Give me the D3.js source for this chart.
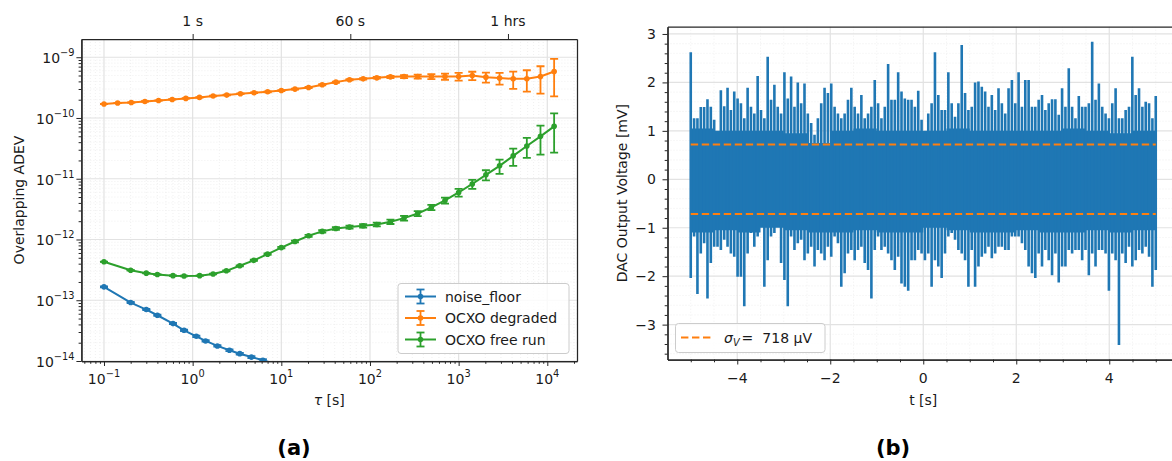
<!DOCTYPE html>
<html>
<head>
<meta charset="utf-8">
<script src="https://cdn.jsdelivr.net/npm/d3@7"></script>
<style>
  body { margin: 0; background: #fff; }
  text { font-family: "DejaVu Sans", sans-serif; }
</style>
</head>
<body>
<svg id="fig" width="1172" height="461"></svg>
<script>
// ---------- (a) overlapping Allan deviation ----------
const tauNoise = [0.1, 0.2, 0.3, 0.4, 0.6, 0.8, 1.1, 1.4, 1.9, 2.6, 3.4, 4.6, 6.2, 8.4, 11.3];
const adevNoise = [1.66e-13, 9.16e-14, 7.03e-14, 5.66e-14, 4.13e-14, 3.2e-14, 2.55e-14, 2.14e-14,
  1.77e-14, 1.50e-14, 1.32e-14, 1.16e-14, 1.03e-14, 9.0e-15, 7.9e-15];
const errNoise = [3e-15, 2e-15, 1.5e-15, 1.2e-15, 1e-15, 8e-16, 7e-16, 6e-16, 5e-16, 5e-16, 4e-16,
  4e-16, 4e-16, 4e-16, 4e-16];

const tauDegraded = [0.1, 0.1425, 0.2031, 0.2894, 0.4125, 0.5878, 0.8377, 1.194, 1.701, 2.424, 3.455,
  4.924, 7.017, 10, 14.25, 20.31, 28.94, 41.25, 58.78, 83.77, 119.4, 170.1, 242.4, 345.5, 492.4,
  701.7, 1000, 1425, 2031, 2894, 4125, 5878, 8377, 11940];
const adevDegraded = [1.70e-10, 1.76e-10, 1.80e-10, 1.87e-10, 1.94e-10, 2.02e-10, 2.10e-10, 2.18e-10,
  2.30e-10, 2.38e-10, 2.50e-10, 2.60e-10, 2.70e-10, 2.83e-10, 2.99e-10, 3.18e-10, 3.52e-10, 3.89e-10,
  4.25e-10, 4.41e-10, 4.58e-10, 4.75e-10, 4.81e-10, 4.81e-10, 4.81e-10, 4.81e-10, 4.81e-10, 4.99e-10,
  4.70e-10, 4.53e-10, 4.41e-10, 4.41e-10, 4.81e-10, 5.81e-10];
const errDegraded = [1e-12, 1e-12, 1.2e-12, 1.4e-12, 1.6e-12, 1.8e-12, 2e-12, 2.3e-12, 2.6e-12, 3e-12,
  3.5e-12, 4e-12, 4.6e-12, 5.3e-12, 6e-12, 7e-12, 8e-12, 9e-12, 1.0e-11, 1.2e-11, 1.5e-11, 2.0e-11,
  2.8e-11, 3.6e-11, 4.5e-11, 5.5e-11, 7.0e-11, 7.8e-11, 8.8e-11, 1.0e-10, 1.4e-10, 1.7e-10, 2.3e-10,
  3.55e-10];

const tauFree = [0.1, 0.2, 0.3, 0.4, 0.6, 0.8, 1.2, 1.7, 2.4, 3.4, 4.9, 7.0, 10, 14.25, 20.31, 28.94,
  41.25, 58.78, 83.77, 119.4, 170.1, 242.4, 345.5, 492.4, 701.7, 1000, 1425, 2031, 2894, 4125, 5878,
  8377, 11940];
const adevFree = [4.30e-13, 3.11e-13, 2.79e-13, 2.65e-13, 2.54e-13, 2.50e-13, 2.54e-13, 2.70e-13,
  3.05e-13, 3.69e-13, 4.54e-13, 5.74e-13, 7.35e-13, 9.27e-13, 1.15e-12, 1.36e-12, 1.52e-12, 1.60e-12,
  1.68e-12, 1.77e-12, 1.96e-12, 2.25e-12, 2.68e-12, 3.37e-12, 4.39e-12, 5.94e-12, 8.2e-12, 1.16e-11,
  1.63e-11, 2.38e-11, 3.45e-11, 4.99e-11, 7.28e-11];
const errFree = [2e-15, 2e-15, 2e-15, 2e-15, 2e-15, 3e-15, 3e-15, 4e-15, 5e-15, 7e-15, 1e-14, 1.5e-14,
  2.2e-14, 3.2e-14, 4.5e-14, 6e-14, 7.5e-14, 9e-14, 1.1e-13, 1.3e-13, 1.6e-13, 2.0e-13, 2.6e-13,
  3.3e-13, 5.0e-13, 8.6e-13, 1.4e-12, 2.2e-12, 4.3e-12, 7.5e-12, 1.25e-11, 2.5e-11, 4.6e-11];

const decadeTicksX = [-1, 0, 1, 2, 3, 4];
const decadeTicksY = [-14, -13, -12, -11, -10, -9];
const topTickValues = [1, 60, 3600];
const topTickLabels = ["1 s", "60 s", "1 hrs"];

// ---------- (b) DAC output voltage [mV] ----------
// extremes reached inside each of 140 equal time intervals
const voltMax = [2.62, 1.26, 1.26, 1.49, 1.49, 1.65, 1.50, 1.23, 0.95, 1.84, 1.51, 1.89, 1.43, 1.81,
  1.67, 1.57, 1.26, 1.89, 1.50, 1.36, 2.13, 1.43, 1.26, 2.53, 1.64, 1.95, 1.50, 1.36, 2.21, 1.67, 2.12,
  1.50, 2.00, 1.57, 1.98, 1.36, 1.16, 0.92, 1.26, 1.57, 1.89, 1.78, 1.98, 1.50, 1.36, 1.26, 1.36, 1.64,
  1.89, 1.50, 1.36, 1.74, 1.26, 1.36, 1.50, 2.05, 1.57, 1.26, 1.50, 2.38, 1.64, 1.64, 2.21, 1.81, 1.67,
  1.64, 1.64, 1.50, 1.83, 1.23, 0.95, 1.36, 1.57, 2.62, 1.74, 1.43, 1.43, 2.21, 1.57, 1.29, 1.57, 2.77,
  1.78, 1.43, 1.50, 2.00, 2.02, 1.91, 1.81, 1.50, 1.74, 1.43, 1.88, 1.57, 1.36, 1.88, 2.05, 1.57, 2.21,
  1.50, 2.05, 2.05, 1.50, 1.50, 1.64, 1.74, 1.43, 1.57, 1.65, 1.65, 1.33, 1.88, 1.50, 2.29, 1.50, 1.26,
  1.72, 1.50, 1.50, 1.57, 2.84, 1.64, 1.98, 1.50, 1.36, 1.26, 1.57, 1.88, 1.26, 1.26, 1.43, 1.50, 2.53,
  1.74, 1.88, 1.50, 1.60, 1.57, 1.26, 1.72];
const voltMin = [-2.04, -1.18, -2.37, -1.53, -1.32, -2.46, -1.73, -1.39, -1.39, -1.46, -1.25, -1.39,
  -1.53, -1.60, -2.01, -2.01, -2.62, -1.53, -1.11, -1.39, -1.18, -0.98, -2.22, -1.67, -1.18, -1.11,
  -0.98, -1.73, -2.08, -2.62, -1.18, -1.46, -1.32, -1.25, -1.67, -1.53, -1.39, -1.80, -1.46, -1.53,
  -1.67, -1.39, -1.60, -1.18, -1.32, -2.22, -1.94, -1.53, -1.46, -1.67, -1.46, -1.39, -1.73, -1.87,
  -2.46, -1.46, -1.18, -1.46, -1.39, -1.53, -1.67, -1.87, -1.60, -2.15, -2.22, -2.30, -1.67, -1.67,
  -1.46, -1.53, -1.67, -1.53, -2.22, -1.67, -1.80, -2.04, -1.53, -1.18, -1.11, -1.25, -1.46, -1.53,
  -1.67, -2.22, -1.46, -2.22, -1.80, -1.60, -1.53, -1.39, -1.63, -1.53, -1.39, -1.39, -1.46, -1.46,
  -1.18, -1.18, -1.18, -1.32, -1.46, -1.80, -1.94, -2.04, -1.53, -1.80, -1.46, -1.67, -1.98, -1.53,
  -2.13, -1.80, -1.80, -1.46, -1.53, -1.46, -1.46, -1.67, -1.46, -1.98, -1.53, -1.80, -1.46, -1.46,
  -1.53, -2.30, -1.53, -1.67, -3.42, -1.53, -1.73, -1.39, -1.80, -1.67, -1.46, -1.53, -1.39, -1.60,
  -2.22, -1.87];
// range densely covered by the trace in each 0.5 s window
const denseHi = [1.05, 1.0, 1.0, 1.0, 0.95, 0.75, 1.0, 1.05, 1.0, 1.0, 1.0, 1.05, 1.0, 1.0, 1.0, 1.0,
  1.05, 1.0, 0.95, 1.0];
const denseLo = [-1.1, -1.05, -1.1, -1.0, -1.05, -1.1, -1.1, -1.05, -1.1, -1.1, -1.0, -1.05, -1.1,
  -1.1, -1.05, -1.1, -1.1, -1.05, -1.1, -1.05];
const tStart = -5, tEnd = 5;
const sigmaV = 0.718;   // mV
const voltTicksX = [-4, -2, 0, 2, 4];
const voltTicksY = [-3, -2, -1, 0, 1, 2, 3];

// ---------- shared style ----------
const C = { blue: "#1f77b4", orange: "#ff7f0e", green: "#2ca02c" };
const INK = "#1a1a1a", SPINE = "#262626";
const GRID_MAJOR = "#e2e2e2", GRID_MINOR = "#ececec";
const FS = 14;
const svg = d3.select("#fig");
const minus = n => (n < 0 ? "\u2212" + (-n) : String(n));

// ================= panel (a) =================
const A = { x0: 81.4, x1: 577, y0: 39, y1: 361 };
const xA = d3.scaleLog().domain([Math.pow(10, -1.2548), Math.pow(10, 4.335)]).range([A.x0, A.x1]);
const yA = d3.scaleLog().domain([1e-14, Math.pow(10, -8.70)]).range([A.y1, A.y0]);

const inDom = (s, v) => { const d = s.domain(); return v >= d[0] && v <= d[1]; };
const minorLog = (s, d0, d1) => {
  const out = [];
  for (let d = d0; d <= d1; d++) for (let m = 2; m <= 9; m++) {
    const v = m * Math.pow(10, d); if (inDom(s, v)) out.push(v);
  }
  return out;
};
const xAMajor = decadeTicksX.map(d => Math.pow(10, d));
const yAMajor = decadeTicksY.map(d => Math.pow(10, d));
const xAMinor = minorLog(xA, -2, 4);
const yAMinor = minorLog(yA, -15, -9);

const gA = svg.append("g");
const gridA = gA.append("g");
gridA.selectAll(".vmin").data(xAMinor).enter().append("line")
  .attr("x1", d => xA(d)).attr("x2", d => xA(d)).attr("y1", A.y0).attr("y2", A.y1)
  .attr("stroke", GRID_MINOR).attr("stroke-width", 0.8).attr("stroke-dasharray", "1,2");
gridA.selectAll(".hmin").data(yAMinor).enter().append("line")
  .attr("y1", d => yA(d)).attr("y2", d => yA(d)).attr("x1", A.x0).attr("x2", A.x1)
  .attr("stroke", GRID_MINOR).attr("stroke-width", 0.8).attr("stroke-dasharray", "1,2");
gridA.selectAll(".vmaj").data(xAMajor).enter().append("line")
  .attr("x1", d => xA(d)).attr("x2", d => xA(d)).attr("y1", A.y0).attr("y2", A.y1)
  .attr("stroke", GRID_MAJOR).attr("stroke-width", 1.2);
gridA.selectAll(".hmaj").data(yAMajor).enter().append("line")
  .attr("y1", d => yA(d)).attr("y2", d => yA(d)).attr("x1", A.x0).attr("x2", A.x1)
  .attr("stroke", GRID_MAJOR).attr("stroke-width", 1.2);

const defs = svg.append("defs");
defs.append("clipPath").attr("id", "clipA")
  .append("rect").attr("x", A.x0).attr("y", A.y0).attr("width", A.x1 - A.x0).attr("height", A.y1 - A.y0);
defs.append("clipPath").attr("id", "clipB")
  .append("rect").attr("x", 667.5).attr("y", 26.7).attr("width", 520).attr("height", 359.5 - 26.7);

const dataA = gA.append("g").attr("clip-path", "url(#clipA)");
function errSeries(taus, vals, errs, color) {
  const pts = taus.map((t, i) => ({ t, v: vals[i], e: errs[i] }));
  const g = dataA.append("g");
  g.append("path").datum(pts)
    .attr("d", d3.line().x(d => xA(d.t)).y(d => yA(d.v)))
    .attr("fill", "none").attr("stroke", color).attr("stroke-width", 2).attr("stroke-linejoin", "round");
  const lo = d => yA(Math.max(d.v - d.e, 1e-20)), hi = d => yA(d.v + d.e);
  const eb = g.selectAll(".eb").data(pts).enter().append("g");
  eb.append("line").attr("x1", d => xA(d.t)).attr("x2", d => xA(d.t)).attr("y1", lo).attr("y2", hi)
    .attr("stroke", color).attr("stroke-width", 1.8);
  [lo, hi].forEach(f => {
    eb.append("line").attr("x1", d => xA(d.t) - 4).attr("x2", d => xA(d.t) + 4).attr("y1", f).attr("y2", f)
      .attr("stroke", color).attr("stroke-width", 1.8);
  });
  eb.append("circle").attr("cx", d => xA(d.t)).attr("cy", d => yA(d.v)).attr("r", 2.8).attr("fill", color);
}
errSeries(tauNoise, adevNoise, errNoise, C.blue);
errSeries(tauDegraded, adevDegraded, errDegraded, C.orange);
errSeries(tauFree, adevFree, errFree, C.green);

function styleAxis(g) {
  g.selectAll("path.domain").attr("stroke", SPINE).attr("stroke-width", 1.25);
  g.selectAll(".tick line").attr("stroke", SPINE).attr("stroke-width", 1);
  g.selectAll(".tick text").remove();
}
gA.append("g").attr("transform", `translate(0,${A.y1})`)
  .call(d3.axisBottom(xA).tickValues(xAMinor).tickSize(2.8).tickSizeOuter(0).tickFormat("")).call(styleAxis);
gA.append("g").attr("transform", `translate(0,${A.y1})`)
  .call(d3.axisBottom(xA).tickValues(xAMajor).tickSize(5).tickSizeOuter(0).tickFormat("")).call(styleAxis);
gA.append("g").attr("transform", `translate(${A.x0},0)`)
  .call(d3.axisLeft(yA).tickValues(yAMinor).tickSize(2.8).tickSizeOuter(0).tickFormat("")).call(styleAxis);
gA.append("g").attr("transform", `translate(${A.x0},0)`)
  .call(d3.axisLeft(yA).tickValues(yAMajor).tickSize(5).tickSizeOuter(0).tickFormat("")).call(styleAxis);
gA.append("g").attr("transform", `translate(0,${A.y0})`)
  .call(d3.axisTop(xA).tickValues(topTickValues).tickSize(5).tickSizeOuter(0).tickFormat("")).call(styleAxis);
gA.append("g").attr("transform", `translate(${A.x1},0)`)
  .call(d3.axisRight(yA).tickValues([]).tickSizeOuter(0)).call(styleAxis);

function powLabel(g, x, y, anchor, exp) {
  const t = g.append("text").attr("x", x).attr("y", y).attr("text-anchor", anchor)
    .attr("font-size", FS).attr("fill", INK);
  t.append("tspan").text("10");
  t.append("tspan").attr("dy", -7).attr("font-size", 9.8).text(minus(exp));
}
decadeTicksX.forEach(d => powLabel(gA, xA(Math.pow(10, d)), 383.5, "middle", d));
decadeTicksY.forEach(d => powLabel(gA, 74.5, yA(Math.pow(10, d)) + 6, "end", d));
topTickValues.forEach((v, i) => {
  gA.append("text").attr("x", xA(v)).attr("y", 25.5).attr("text-anchor", "middle")
    .attr("font-size", FS).attr("fill", INK).text(topTickLabels[i]);
});

const tauLabel = gA.append("text").attr("x", (A.x0 + A.x1) / 2).attr("y", 405)
  .attr("text-anchor", "middle").attr("font-size", FS).attr("fill", INK);
tauLabel.append("tspan").attr("font-style", "italic").text("\u03c4");
tauLabel.append("tspan").text(" [s]");
gA.append("text").attr("transform", `translate(24,${(A.y0 + A.y1) / 2}) rotate(-90)`)
  .attr("text-anchor", "middle").attr("font-size", FS).attr("fill", INK).text("Overlapping ADEV");

const legA = gA.append("g");
legA.append("rect").attr("x", 398).attr("y", 283.5).attr("width", 171).attr("height", 70).attr("rx", 3)
  .attr("fill", "#fff").attr("fill-opacity", 0.8).attr("stroke", "#cccccc").attr("stroke-width", 1);
[["noise_floor", C.blue], ["OCXO degraded", C.orange], ["OCXO free run", C.green]].forEach(([name, col], i) => {
  const cy = 296.5 + i * 21.5, hx = 420.5;
  const g = legA.append("g");
  g.append("line").attr("x1", 405).attr("x2", 436).attr("y1", cy).attr("y2", cy)
    .attr("stroke", col).attr("stroke-width", 2);
  g.append("line").attr("x1", hx).attr("x2", hx).attr("y1", cy - 7).attr("y2", cy + 7)
    .attr("stroke", col).attr("stroke-width", 1.8);
  [cy - 7, cy + 7].forEach(yy => g.append("line").attr("x1", hx - 4).attr("x2", hx + 4)
    .attr("y1", yy).attr("y2", yy).attr("stroke", col).attr("stroke-width", 1.8));
  g.append("circle").attr("cx", hx).attr("cy", cy).attr("r", 2.8).attr("fill", col);
  g.append("text").attr("x", 445).attr("y", cy + 5).attr("font-size", FS).attr("fill", INK).text(name);
});

// ================= panel (b) =================
const B = { x0: 667.5, x1: 1179, y0: 26.7, y1: 359.5 };
const xB = d3.scaleLinear().domain([-5.5, 5.5]).range([B.x0, B.x1]);
const yB = d3.scaleLinear().domain([-3.72, 3.15]).range([B.y1, B.y0]);
const xBMinor = d3.range(-10, 11).map(k => k * 0.5).filter(v => !voltTicksX.includes(v));
const yBMinor = d3.range(-18, 16).map(k => +(k * 0.2).toFixed(1)).filter(v => !voltTicksY.includes(v));

const gB = svg.append("g");
const gridB = gB.append("g");
gridB.selectAll(".vmin").data(xBMinor).enter().append("line")
  .attr("x1", d => xB(d)).attr("x2", d => xB(d)).attr("y1", B.y0).attr("y2", B.y1)
  .attr("stroke", GRID_MINOR).attr("stroke-width", 0.8).attr("stroke-dasharray", "1,2");
gridB.selectAll(".hmin").data(yBMinor).enter().append("line")
  .attr("y1", d => yB(d)).attr("y2", d => yB(d)).attr("x1", B.x0).attr("x2", B.x1)
  .attr("stroke", GRID_MINOR).attr("stroke-width", 0.8).attr("stroke-dasharray", "1,2");
gridB.selectAll(".vmaj").data(voltTicksX).enter().append("line")
  .attr("x1", d => xB(d)).attr("x2", d => xB(d)).attr("y1", B.y0).attr("y2", B.y1)
  .attr("stroke", GRID_MAJOR).attr("stroke-width", 1.2);
gridB.selectAll(".hmaj").data(voltTicksY).enter().append("line")
  .attr("y1", d => yB(d)).attr("y2", d => yB(d)).attr("x1", B.x0).attr("x2", B.x1)
  .attr("stroke", GRID_MAJOR).attr("stroke-width", 1.2);

const dataB = gB.append("g").attr("clip-path", "url(#clipB)");
// densely sampled core of the trace
const denseStep = (tEnd - tStart) / denseHi.length;
const densePts = denseHi.map((h, i) => ({ t: tStart + i * denseStep, hi: h, lo: denseLo[i] }));
densePts.push({ t: tEnd, hi: denseHi[denseHi.length - 1], lo: denseLo[denseLo.length - 1] });
dataB.append("path").datum(densePts)
  .attr("d", d3.area().curve(d3.curveStepAfter).x(d => xB(d.t)).y0(d => yB(d.lo)).y1(d => yB(d.hi)))
  .attr("fill", C.blue);
// excursions: the full swing of the trace inside each interval
const swingStep = (tEnd - tStart) / (voltMax.length - 1);
dataB.selectAll(".swing").data(voltMax.map((v, i) => ({ t: tStart + i * swingStep, hi: v, lo: voltMin[i] })))
  .enter().append("line")
  .attr("x1", d => xB(d.t)).attr("x2", d => xB(d.t))
  .attr("y1", d => yB(d.lo)).attr("y2", d => yB(d.hi))
  .attr("stroke", C.blue).attr("stroke-width", 2.6);
[sigmaV, -sigmaV].forEach(s => {
  dataB.append("line").attr("x1", xB(tStart)).attr("x2", xB(tEnd)).attr("y1", yB(s)).attr("y2", yB(s))
    .attr("stroke", C.orange).attr("stroke-width", 2).attr("stroke-dasharray", "7.4,3.6");
});

gB.append("g").attr("transform", `translate(0,${B.y1})`)
  .call(d3.axisBottom(xB).tickValues(xBMinor).tickSize(2.8).tickSizeOuter(0).tickFormat("")).call(styleAxis);
gB.append("g").attr("transform", `translate(0,${B.y1})`)
  .call(d3.axisBottom(xB).tickValues(voltTicksX).tickSize(5).tickSizeOuter(0).tickFormat("")).call(styleAxis);
gB.append("g").attr("transform", `translate(${B.x0},0)`)
  .call(d3.axisLeft(yB).tickValues(yBMinor).tickSize(2.8).tickSizeOuter(0).tickFormat("")).call(styleAxis);
gB.append("g").attr("transform", `translate(${B.x0},0)`)
  .call(d3.axisLeft(yB).tickValues(voltTicksY).tickSize(5).tickSizeOuter(0).tickFormat("")).call(styleAxis);
gB.append("g").attr("transform", `translate(0,${B.y0})`)
  .call(d3.axisTop(xB).tickValues([]).tickSizeOuter(0)).call(styleAxis);

voltTicksX.forEach(v => gB.append("text").attr("x", xB(v)).attr("y", 382.5).attr("text-anchor", "middle")
  .attr("font-size", FS).attr("fill", INK).text(minus(v)));
voltTicksY.forEach(v => gB.append("text").attr("x", 656).attr("y", yB(v) + 5).attr("text-anchor", "end")
  .attr("font-size", FS).attr("fill", INK).text(minus(v)));

gB.append("text").attr("x", xB(0)).attr("y", 405).attr("text-anchor", "middle")
  .attr("font-size", FS).attr("fill", INK).text("t [s]");
gB.append("text").attr("transform", `translate(627,${(B.y0 + B.y1) / 2}) rotate(-90)`)
  .attr("text-anchor", "middle").attr("font-size", FS).attr("fill", INK).text("DAC Output Voltage [mV]");

const legB = gB.append("g");
legB.append("rect").attr("x", 675.5).attr("y", 323.5).attr("width", 149.5).attr("height", 29).attr("rx", 3)
  .attr("fill", "#fff").attr("fill-opacity", 0.8).attr("stroke", "#cccccc").attr("stroke-width", 1);
legB.append("line").attr("x1", 681).attr("x2", 712).attr("y1", 337.5).attr("y2", 337.5)
  .attr("stroke", C.orange).attr("stroke-width", 2).attr("stroke-dasharray", "7.4,3.6");
const sigText = legB.append("text").attr("x", 724).attr("y", 342.5).attr("font-size", FS).attr("fill", INK);
sigText.append("tspan").attr("font-style", "italic").text("\u03c3");
sigText.append("tspan").attr("font-style", "italic").attr("font-size", 9.8).attr("dy", 3).text("V");
sigText.append("tspan").attr("dy", -3).attr("dx", 2).text("=");
sigText.append("tspan").attr("dx", 9).text(`${Math.round(sigmaV * 1000)} \u00b5V`);

[["(a)", 294], ["(b)", 893]].forEach(([s, x]) => {
  svg.append("text").attr("x", x).attr("y", 455).attr("text-anchor", "middle")
    .attr("font-family", "'DejaVu Serif', serif").attr("font-weight", "bold").attr("font-size", 21)
    .attr("fill", "#000").text(s);
});
</script>
</body>
</html>
